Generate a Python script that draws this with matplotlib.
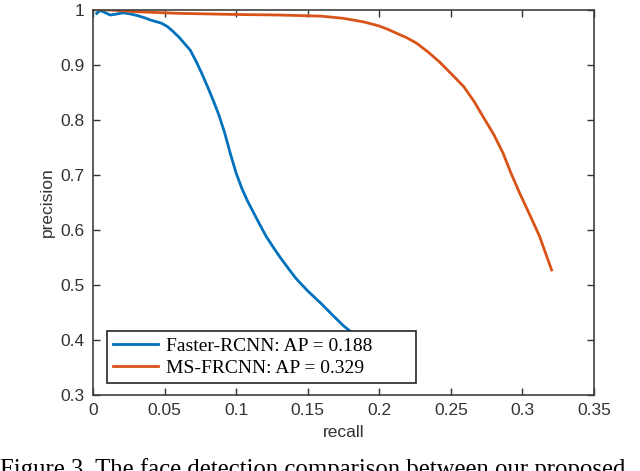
import matplotlib.pyplot as plt

plt.rcParams['font.family'] = ['Liberation Sans', 'DejaVu Sans']

# Faster-RCNN curve
recall_frcnn = [0.0026, 0.005, 0.008, 0.012, 0.017, 0.021, 0.026, 0.031, 0.036, 0.040,
                0.044, 0.048, 0.052, 0.056, 0.060, 0.064, 0.068, 0.072, 0.076, 0.080,
                0.084, 0.088, 0.092, 0.096, 0.100, 0.104, 0.108, 0.112, 0.116, 0.121,
                0.126, 0.131, 0.137, 0.142, 0.150, 0.159, 0.167, 0.175, 0.185]
prec_frcnn = [0.993, 0.998, 0.995, 0.990, 0.992, 0.994, 0.992, 0.989, 0.985, 0.981,
              0.978, 0.975, 0.969, 0.960, 0.950, 0.938, 0.926, 0.906, 0.884, 0.860,
              0.835, 0.808, 0.776, 0.738, 0.703, 0.675, 0.652, 0.632, 0.612, 0.588,
              0.568, 0.549, 0.528, 0.511, 0.489, 0.467, 0.446, 0.4256, 0.405]

# MS-FRCNN curve
recall_ms = [0.0, 0.012, 0.03, 0.06, 0.10, 0.13, 0.159, 0.175, 0.190, 0.200, 0.206,
             0.212, 0.219, 0.226, 0.234, 0.242, 0.250, 0.259, 0.266, 0.2726, 0.280,
             0.2865, 0.292, 0.298, 0.305, 0.312, 0.3204]
prec_ms = [1.0, 0.999, 0.996, 0.993, 0.991, 0.990, 0.988, 0.984, 0.977, 0.970, 0.964,
           0.957, 0.949, 0.939, 0.923, 0.905, 0.884, 0.860, 0.834, 0.805, 0.773,
           0.739, 0.703, 0.667, 0.628, 0.588, 0.527]

labels = ['Faster-RCNN: AP = 0.188', 'MS-FRCNN: AP = 0.329']
xticks = [0, 0.05, 0.1, 0.15, 0.2, 0.25, 0.3, 0.35]
xtick_labels = ['0', '0.05', '0.1', '0.15', '0.2', '0.25', '0.3', '0.35']
yticks = [0.3, 0.4, 0.5, 0.6, 0.7, 0.8, 0.9, 1.0]
ytick_labels = ['0.3', '0.4', '0.5', '0.6', '0.7', '0.8', '0.9', '1']

fig = plt.figure(figsize=(6.4, 4.71), dpi=100)
ax = fig.add_axes([0.1453, 0.1614, 0.7828, 0.8184])

ax.plot(recall_frcnn, prec_frcnn, color='#0072BD', lw=2.0, label=labels[0])
ax.plot(recall_ms, prec_ms, color='#D95319', lw=2.0, label=labels[1])

ax.set_xlim(0, 0.35)
ax.set_ylim(0.3, 1.0)
ax.set_xticks(xticks)
ax.set_xticklabels(xtick_labels)
ax.set_yticks(yticks)
ax.set_yticklabels(ytick_labels)
ax.tick_params(direction='in', top=True, right=True, length=5, width=1,
               colors='#333333', labelsize=12.5, pad=6)
for s in ax.spines.values():
    s.set_color('#404040')
    s.set_linewidth(1.2)

ax.set_xlabel('recall', fontsize=12.5, color='#333333', labelpad=5)
ax.set_ylabel('precision', fontsize=12.5, color='#333333', labelpad=4)

leg = ax.legend(loc='lower left', bbox_to_anchor=(0.028, 0.032, 0.617, 0.14), mode='expand',
                fancybox=False, framealpha=1, edgecolor='#262626',
                prop={'family': 'Liberation Serif', 'size': 14},
                handlelength=2.3, borderpad=0.3, labelspacing=0.22, handletextpad=0.45,
                borderaxespad=0)
leg.get_frame().set_linewidth(1.2)

fig.text(0.0, 0.028, 'Figure 3. The face detection comparison between our proposed',
         family='Liberation Serif', fontsize=17.8, va='top', ha='left')

fig.savefig('out.png', dpi=100)
